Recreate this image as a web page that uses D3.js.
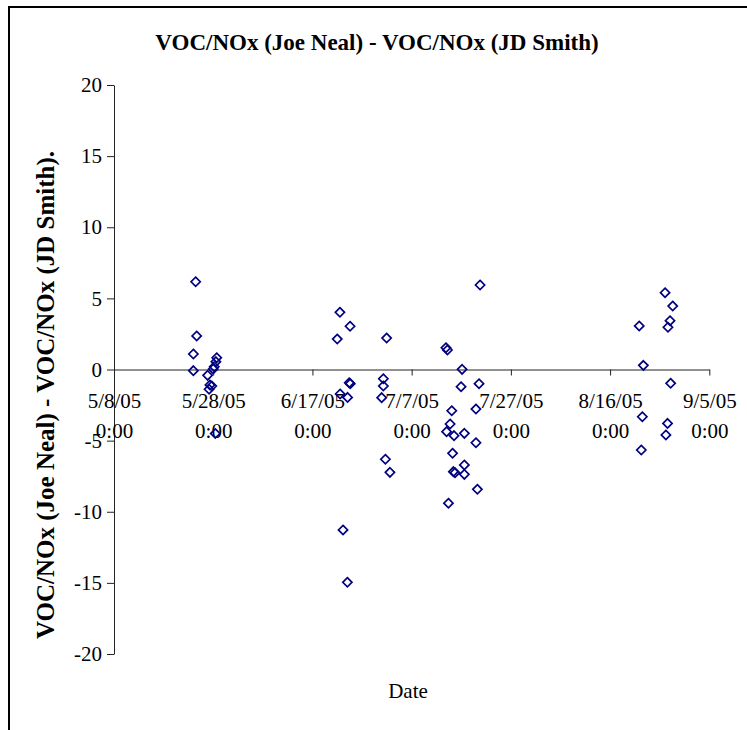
<!DOCTYPE html>
<html>
<head>
<meta charset="utf-8">
<script src="https://cdn.jsdelivr.net/npm/d3@7"></script>
<style>
  html, body { margin: 0; padding: 0; background: #fff; }
  svg { display: block; }
  text { font-family: "Liberation Serif", "Times New Roman", serif; fill: #000; }
</style>
</head>
<body>
<svg id="chart" width="747" height="730"></svg>
<script>
// Sampling times (UTC) and the VOC/NOx difference between the two sites
const sampleTimes = [
  "2005-05-24T11:00", "2005-05-24T16:00", "2005-05-24T00:00", "2005-05-24T00:00",
  "2005-05-26T21:00", "2005-05-27T08:00", "2005-05-27T17:00", "2005-05-27T04:00",
  "2005-05-28T00:00", "2005-05-28T13:00", "2005-05-28T17:00", "2005-05-28T05:00",
  "2005-05-28T10:00",
  "2005-06-22T13:00", "2005-06-24T14:00", "2005-06-22T00:00", "2005-07-01T23:00",
  "2005-06-24T10:00", "2005-06-24T15:00", "2005-06-22T14:00", "2005-06-24T02:00",
  "2005-07-01T07:00", "2005-07-01T07:00", "2005-06-30T23:00", "2005-07-01T17:00",
  "2005-07-02T15:00", "2005-06-23T04:00", "2005-06-24T01:00",
  "2005-07-20T19:00", "2005-07-13T22:00", "2005-07-14T05:00", "2005-07-17T04:00",
  "2005-07-16T23:00", "2005-07-20T14:00", "2005-07-15T02:00", "2005-07-19T23:00",
  "2005-07-14T18:00", "2005-07-14T01:00", "2005-07-15T13:00", "2005-07-17T15:00",
  "2005-07-19T23:00", "2005-07-15T06:00", "2005-07-15T10:00", "2005-07-15T18:00",
  "2005-07-17T15:00", "2005-07-17T15:00", "2005-07-20T06:00", "2005-07-14T10:00",
  "2005-08-27T02:00", "2005-08-28T15:00", "2005-08-28T02:00", "2005-08-27T16:00",
  "2005-08-21T21:00", "2005-08-22T17:00", "2005-08-28T05:00", "2005-08-22T12:00",
  "2005-08-27T14:00", "2005-08-27T06:00", "2005-08-22T07:00"
];
const vocNoxDiff = [
  6.17, 2.36, 1.09, -0.08,
  -0.41, -1.09, -1.16, -1.39,
  0.04, 0.55, 0.83, 0.20,
  -4.5,
  4.02, 3.04, 2.14, 2.21,
  -0.93, -1.0, -1.72, -1.96,
  -0.65, -1.16, -1.98, -6.31,
  -7.23, -11.28, -14.96,
  5.94, 1.53, 1.37, 0.01,
  -1.21, -1.0, -2.9, -2.78,
  -3.83, -4.37, -4.65, -4.49,
  -5.15, -5.89, -7.18, -7.25,
  -6.71, -7.37, -8.42, -9.4,
  5.4, 4.46, 3.43, 2.97,
  3.06, 0.29, -0.97, -3.32,
  -3.79, -4.6, -5.66
];

// Axis ticks
const xTickDates = ["2005-05-08", "2005-05-28", "2005-06-17", "2005-07-07", "2005-07-27", "2005-08-16", "2005-09-05"];
const xTickLabels = ["5/8/05", "5/28/05", "6/17/05", "7/7/05", "7/27/05", "8/16/05", "9/5/05"];
const xTickTime = "0:00";
const yTicks = [-20, -15, -10, -5, 0, 5, 10, 15, 20];

const chartTitle = "VOC/NOx (Joe Neal) - VOC/NOx (JD Smith)";
const yTitle = "VOC/NOx (Joe Neal) - VOC/NOx (JD Smith).";
const xTitle = "Date";

const parseTime = d3.utcParse("%Y-%m-%dT%H:%M");
const parseDay = d3.utcParse("%Y-%m-%d");
const points = sampleTimes.map((t, i) => ({ t: parseTime(t), v: vocNoxDiff[i] }));
const tickDates = xTickDates.map(parseDay);

const svg = d3.select("#chart");

// chart frame
svg.append("path")
  .attr("d", "M9,740 L9,7 L760,7")
  .attr("fill", "none")
  .attr("stroke", "#000")
  .attr("stroke-width", 2);

const x = d3.scaleUtc()
  .domain([tickDates[0], tickDates[tickDates.length - 1]])
  .range([114, 709.3]);
const y = d3.scaleLinear().domain([-20, 20]).range([654, 85]);

const axisColor = "#222";
const tickFont = 21;

// Y axis
const yAxis = svg.append("g")
  .attr("transform", `translate(${x.range()[0]},0)`)
  .call(d3.axisLeft(y).tickValues(yTicks).tickSize(7).tickPadding(5).tickSizeOuter(0)
    .tickFormat(d => String(d)));
yAxis.select(".domain").attr("stroke", axisColor);
yAxis.selectAll(".tick line").attr("stroke", axisColor);
yAxis.selectAll(".tick text")
  .attr("font-family", "Liberation Serif, Times New Roman, serif")
  .attr("font-size", tickFont)
  .attr("fill", "#000");

// X axis crossing at zero
const xAxis = svg.append("g")
  .attr("transform", `translate(0,${y(0)})`)
  .call(d3.axisBottom(x).tickValues(tickDates).tickSize(6).tickSizeOuter(0).tickFormat(() => ""));
xAxis.select(".domain").attr("stroke", axisColor);
xAxis.selectAll(".tick line").attr("stroke", axisColor);
xAxis.selectAll(".tick text").each(function (d, i) {
  const t = d3.select(this)
    .attr("font-family", "Liberation Serif, Times New Roman, serif")
    .attr("font-size", tickFont)
    .attr("fill", "#000")
    .attr("y", 0)
    .attr("dy", null);
  t.append("tspan").attr("x", 0).attr("y", 38).text(xTickLabels[i]);
  t.append("tspan").attr("x", 0).attr("y", 68).text(xTickTime);
});

// Points: hollow diamonds
const r = 4.6;
svg.append("g")
  .selectAll("path")
  .data(points)
  .join("path")
  .attr("transform", d => `translate(${x(d.t)},${y(d.v)})`)
  .attr("d", `M0,${-r}L${r},0L0,${r}L${-r},0Z`)
  .attr("fill", "none")
  .attr("stroke", "#000080")
  .attr("stroke-width", 1.7);

// Titles
svg.append("text")
  .attr("x", 377).attr("y", 50)
  .attr("text-anchor", "middle")
  .attr("font-size", 23)
  .attr("font-weight", "bold")
  .text(chartTitle);

svg.append("text")
  .attr("transform", "translate(54,395) rotate(-90)")
  .attr("text-anchor", "middle")
  .attr("font-size", 25)
  .attr("font-weight", "bold")
  .text(yTitle);

svg.append("text")
  .attr("x", 408).attr("y", 698)
  .attr("text-anchor", "middle")
  .attr("font-size", 21)
  .text(xTitle);
</script>
</body>
</html>
